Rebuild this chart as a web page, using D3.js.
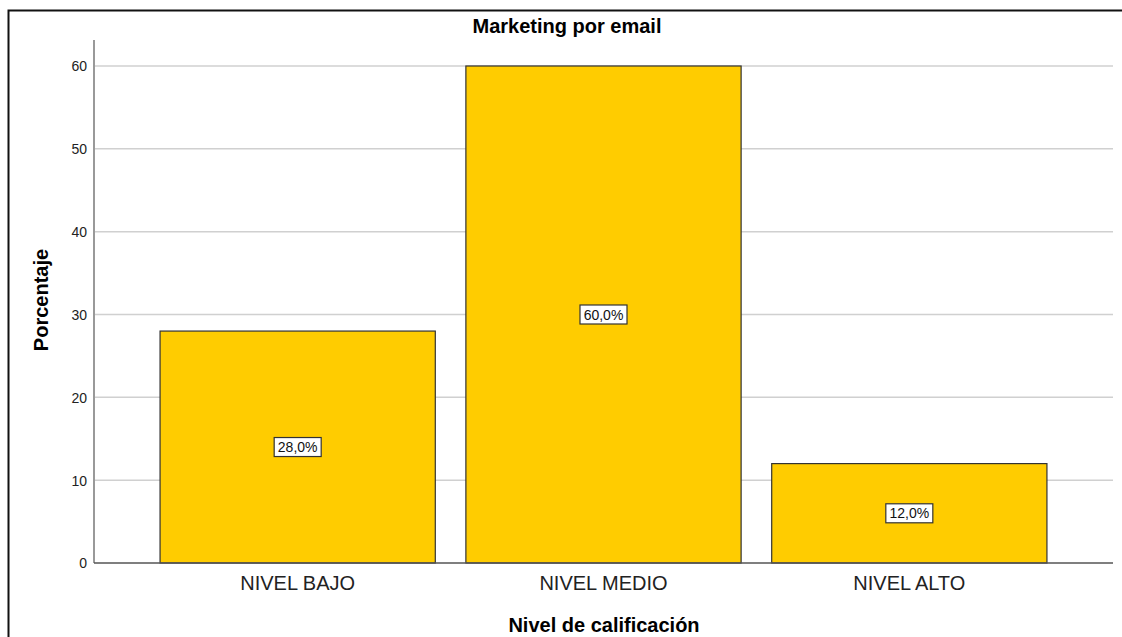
<!DOCTYPE html>
<html>
<head>
<meta charset="utf-8">
<script src="https://d3js.org/d3.v7.min.js"></script>
<style>
  body { margin: 0; background: #fff; font-family: "Liberation Sans", Arial, sans-serif; }
  .y-axis text { font: 14px "Liberation Sans", Arial, sans-serif; fill: #222; }
</style>
</head>
<body>
<svg class="chart"></svg>
<script>
var categories = ["NIVEL BAJO", "NIVEL MEDIO", "NIVEL ALTO"];
var percentages = [28, 60, 12];
var yTicks = [0, 10, 20, 30, 40, 50, 60];
var title = "Marketing por email";
var xTitle = "Nivel de calificación";
var yTitle = "Porcentaje";

var svgWidth = 1122, svgHeight = 637;
var plotLeft = 94, plotRight = 1113, plotTop = 40, plotBottom = 563;

var svg = d3.select(".chart")
  .attr("width", svgWidth)
  .attr("height", svgHeight);

// outer frame (cut off on right and bottom)
svg.append("rect")
  .attr("x", 8.5).attr("y", 10.5)
  .attr("width", 1130).attr("height", 640)
  .attr("fill", "none").attr("stroke", "#111").attr("stroke-width", 2);

var x = d3.scaleBand()
  .domain(categories)
  .range([plotLeft, plotRight])
  .paddingInner(0.1)
  .paddingOuter(0.216);

var y = d3.scaleLinear()
  .domain([0, 60])
  .range([plotBottom, 66]);

// gridlines
svg.append("g")
  .selectAll("line")
  .data(yTicks.filter(function(d) { return d > 0; }))
  .enter().append("line")
  .attr("x1", plotLeft).attr("x2", plotRight)
  .attr("y1", function(d) { return y(d); })
  .attr("y2", function(d) { return y(d); })
  .attr("stroke", "#d0d0d0").attr("stroke-width", 1.5);

// y axis
var yAxis = d3.axisLeft(y).tickValues(yTicks).tickSize(0).tickPadding(7);
var yg = svg.append("g")
  .attr("class", "y-axis")
  .attr("transform", "translate(" + plotLeft + ",0)")
  .call(yAxis);
yg.select(".domain").remove();
yg.selectAll("text").attr("dy", "0.35em");

svg.append("line")
  .attr("x1", plotLeft).attr("x2", plotLeft)
  .attr("y1", plotTop).attr("y2", plotBottom)
  .attr("stroke", "#999").attr("stroke-width", 2);

// bars
svg.append("g")
  .selectAll("rect")
  .data(percentages)
  .enter().append("rect")
  .attr("x", function(d, i) { return x(categories[i]); })
  .attr("y", function(d) { return y(d); })
  .attr("width", x.bandwidth())
  .attr("height", function(d) { return y(0) - y(d); })
  .attr("fill", "#ffcc00")
  .attr("stroke", "#333").attr("stroke-width", 1.2);

// x axis baseline
svg.append("line")
  .attr("x1", plotLeft).attr("x2", plotRight)
  .attr("y1", plotBottom).attr("y2", plotBottom)
  .attr("stroke", "#555").attr("stroke-width", 1.5);

// category labels
var xAxis = d3.axisBottom(x).tickSize(0).tickPadding(12);
var xg = svg.append("g")
  .attr("transform", "translate(0," + plotBottom + ")")
  .call(xAxis);
xg.select(".domain").remove();
xg.selectAll("text")
  .attr("dy", null)
  .attr("y", 27)
  .style("font", "20px 'Liberation Sans', Arial, sans-serif")
  .attr("fill", "#222");

// value labels in boxes
var labels = svg.append("g")
  .selectAll("g")
  .data(percentages)
  .enter().append("g")
  .attr("transform", function(d, i) {
    return "translate(" + (x(categories[i]) + x.bandwidth() / 2) + "," + y(d / 2) + ")";
  });
labels.append("rect")
  .attr("x", -23.5).attr("y", -9.5)
  .attr("width", 47).attr("height", 19)
  .attr("fill", "#fff").attr("stroke", "#333").attr("stroke-width", 1.2);
labels.append("text")
  .attr("text-anchor", "middle")
  .attr("dy", "0.36em")
  .style("font", "14px 'Liberation Sans', Arial, sans-serif")
  .attr("fill", "#111")
  .text(function(d) { return d.toFixed(1).replace(".", ",") + "%"; });

// titles
svg.append("text")
  .attr("x", 567).attr("y", 33)
  .attr("text-anchor", "middle")
  .style("font", "bold 20px 'Liberation Sans', Arial, sans-serif")
  .text(title);

svg.append("text")
  .attr("x", 604).attr("y", 632)
  .attr("text-anchor", "middle")
  .style("font", "bold 20px 'Liberation Sans', Arial, sans-serif")
  .text(xTitle);

svg.append("text")
  .attr("transform", "translate(48,300) rotate(-90)")
  .attr("text-anchor", "middle")
  .style("font", "bold 20px 'Liberation Sans', Arial, sans-serif")
  .text(yTitle);
</script>
</body>
</html>
